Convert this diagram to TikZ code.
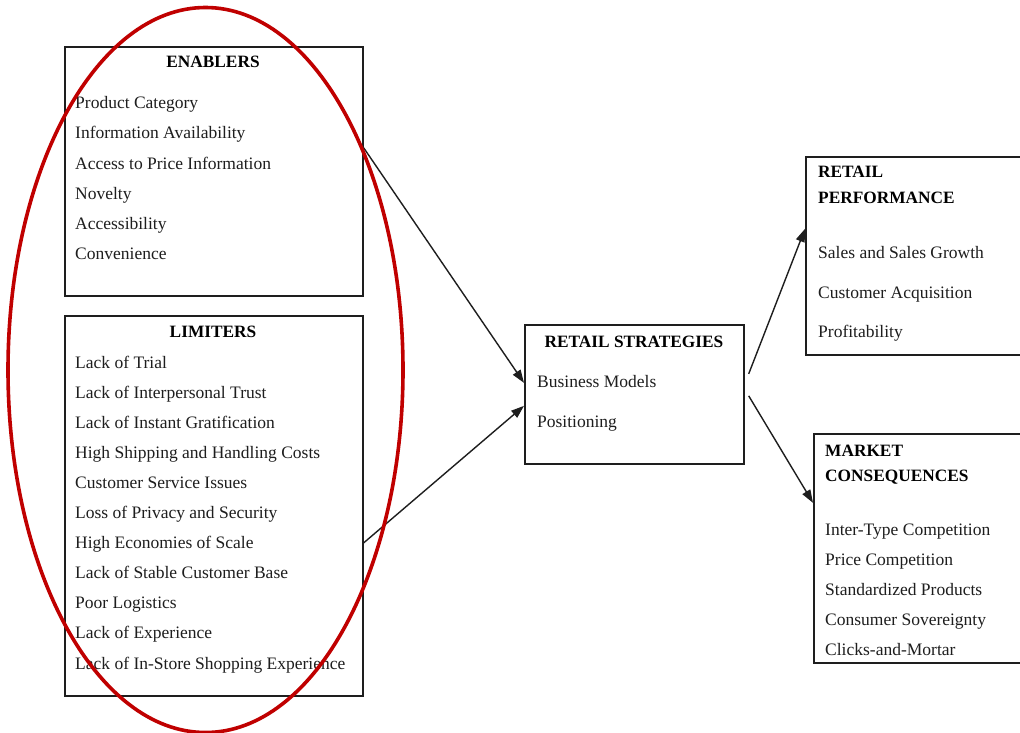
\documentclass[tikz,border=0pt]{standalone}
\usepackage{fontspec}
\setmainfont{Liberation Serif}
\usetikzlibrary{arrows.meta}
\definecolor{ink}{HTML}{1E1E1E}
\definecolor{ovalred}{HTML}{C00000}
\tikzset{
  box/.style={draw=ink, line width=1.7pt, anchor=north west, inner sep=0pt},
  item/.style={anchor=base west, inner sep=0pt, text=ink, font=\fontsize{17.5}{20}\selectfont},
  head/.style={anchor=base, inner sep=0pt, text=black, font=\fontsize{17.3}{20}\selectfont\bfseries},
  headl/.style={anchor=base west, inner sep=0pt, text=black, font=\fontsize{17.3}{20}\selectfont\bfseries},
  conn/.style={draw=ink, line width=1.4pt, -{Triangle[length=13pt,width=9pt]}},
}
\begin{document}
\begin{tikzpicture}[x=1pt,y=-1pt]
\useasboundingbox (0,0) rectangle (1020,733);
\clip (0,0) rectangle (1020,733);
\fill[white] (0,0) rectangle (1020,733);
% boxes
\node[box, minimum width=298pt, minimum height=249pt] (enab) at (64,46) {};
\node[box, minimum width=298pt, minimum height=380pt] (limi) at (64,315) {};
\node[box, minimum width=219pt, minimum height=139pt] (rs) at (524,324) {};
\node[box, minimum width=230pt, minimum height=198pt] (rp) at (805,156) {};
\node[box, minimum width=225pt, minimum height=229pt] (mc) at (813,433) {};
% ENABLERS
\node[head] (enabT) at (213,68) {ENABLERS};
\foreach \t [count=\i] in {Product Category,Information Availability,Access to Price Information,Novelty,Accessibility,Convenience}
  \node[item] (e\i) at (75,{109+30*(\i-1)}) {\t};
% LIMITERS
\node[head] (limiT) at (213,337) {LIMITERS};
\foreach \t [count=\i] in {Lack of Trial,Lack of Interpersonal Trust,Lack of Instant Gratification,High Shipping and Handling Costs,Customer Service Issues,Loss of Privacy and Security,High Economies of Scale,Lack of Stable Customer Base,Poor Logistics,Lack of Experience,Lack of In-Store Shopping Experience}
  \node[item] (l\i) at (75,{368+30.1*(\i-1)}) {\t};
% RETAIL STRATEGIES
\node[head] (rsT) at (634,347) {RETAIL STRATEGIES};
\node[item] (rs1) at (537,387) {Business Models};
\node[item] (rs2) at (537,427) {Positioning};
% RETAIL PERFORMANCE
\node[headl] (rpT1) at (818,178) {RETAIL};
\node[headl] (rpT2) at (818,203) {PERFORMANCE};
\node[item] (rp1) at (818,258) {Sales and Sales Growth};
\node[item] (rp2) at (818,298) {Customer Acquisition};
\node[item] (rp3) at (818,337) {Profitability};
% MARKET CONSEQUENCES
\node[headl] (mcT1) at (825,456) {MARKET};
\node[headl] (mcT2) at (825,481) {CONSEQUENCES};
\foreach \t [count=\i] in {Inter-Type Competition,Price Competition,Standardized Products,Consumer Sovereignty,Clicks-and-Mortar}
  \node[item] (m\i) at (825,{535+30.2*(\i-1)}) {\t};
% connectors
\draw[conn] ([yshift=23.5pt]enab.east) -- ([yshift=11.5pt]rs.west);
\draw[conn] ([yshift=-37pt]limi.east) -- ([yshift=-11.5pt]rs.west);
\draw[conn] ([xshift=4pt,yshift=20.5pt]rs.east) -- ([yshift=27pt]rp.west);
\draw[conn] ([xshift=4pt,yshift=-1.5pt]rs.east) -- ([yshift=45.5pt]mc.west);
% red oval
\draw[ovalred, line width=3.6pt] (205.5,370) ellipse [x radius=197.5, y radius=362.5];
\end{tikzpicture}
\end{document}
